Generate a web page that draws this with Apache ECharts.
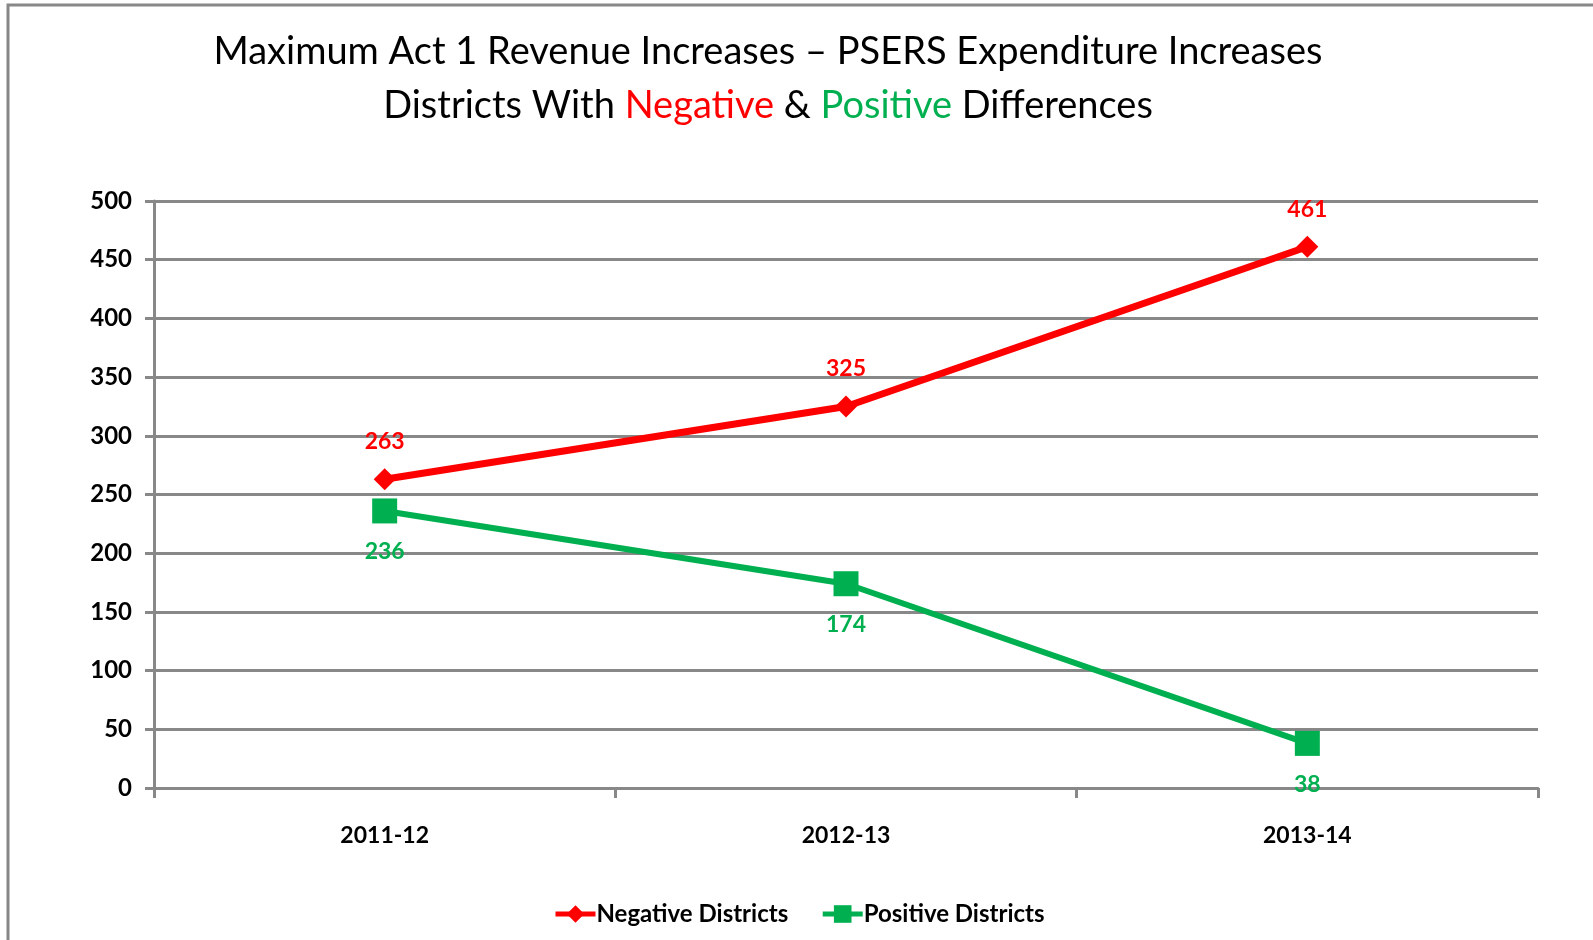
<!DOCTYPE html>
<html>
<head>
<meta charset="utf-8">
<script src="https://cdn.jsdelivr.net/npm/echarts@6/dist/echarts.min.js"></script>
<style>
  html, body { margin: 0; padding: 0; background: #fff; }
  #chart { width: 1593px; height: 940px; }
</style>
</head>
<body>
<div id="chart"></div>
<script>
  // school years
  const years = ['2011-12', '2012-13', '2013-14']
  // districts where max Act 1 revenue increase < PSERS increase
  const negativeDistricts = [263, 325, 461]
  // districts where it is greater
  const positiveDistricts = [236, 174, 38]
  const yTicks = [0, 50, 100, 150, 200, 250, 300, 350, 400, 450, 500]

  const RED = '#FF0000'
  const GREEN = '#00B050'
  const GRAY = '#888888'
  const FONT = 'Lato'

  const chart = echarts.init(document.getElementById('chart'))
  const option = {
    backgroundColor: '#fff',
    textStyle: { fontFamily: FONT },
    title: {
      left: 763,
      top: 20,
      textAlign: 'center',
      text: '{a|Maximum Act 1 Revenue Increases \u2013 PSERS Expenditure Increases}\n' +
        '{a|Districts With }{n|Negative}{a| & }{p|Positive}{a| Differences}',
      textStyle: {
        fontWeight: 'normal',
        rich: {
          a: { fontFamily: FONT, fontSize: 38, fontWeight: 'normal', color: '#000', lineHeight: 54 },
          n: { fontFamily: FONT, fontSize: 38, fontWeight: 'normal', color: RED, lineHeight: 54 },
          p: { fontFamily: FONT, fontSize: 38, fontWeight: 'normal', color: GREEN, lineHeight: 54 }
        }
      }
    },
    graphic: [{
      type: 'polyline',
      shape: { points: [[8, 940], [8, 5], [1593, 5]] },
      style: { stroke: GRAY, lineWidth: 3, fill: null }
    }],
    legend: {
      left: 548,
      top: 897,
      itemWidth: 40,
      itemHeight: 22,
      itemGap: 32,
      lineStyle: { width: 5 },
      textStyle: { fontFamily: FONT, fontSize: 24, fontWeight: 'bold', color: '#000', padding: [0, 0, 0, -4] },
      data: ['Negative Districts', 'Positive Districts']
    },
    grid: {
      left: 154,
      right: 55,
      top: 201,
      bottom: 152
    },
    xAxis: {
      type: 'category',
      data: years,
      boundaryGap: true,
      axisLine: { lineStyle: { color: GRAY, width: 3 } },
      axisTick: { show: true, length: 10, lineStyle: { color: GRAY, width: 3 } },
      axisLabel: { margin: 36, fontFamily: FONT, fontSize: 23, fontWeight: 'bold', color: '#000' }
    },
    yAxis: {
      type: 'value',
      min: yTicks[0],
      max: yTicks[yTicks.length - 1],
      interval: 50,
      axisLine: { show: true, lineStyle: { color: GRAY, width: 3 } },
      axisTick: { show: true, length: 9, lineStyle: { color: GRAY, width: 3 } },
      splitLine: { show: true, lineStyle: { color: GRAY, width: 3 } },
      axisLabel: { margin: 22, fontFamily: FONT, fontSize: 24, fontWeight: 'bold', color: '#000' }
    },
    series: [{
      name: 'Negative Districts',
      type: 'line',
      data: negativeDistricts,
      color: RED,
      symbol: 'diamond',
      symbolSize: 22,
      lineStyle: { width: 7, color: RED },
      itemStyle: { color: RED },
      label: {
        show: true,
        position: 'top',
        distance: 15,
        fontFamily: FONT,
        fontSize: 23,
        fontWeight: 'bold',
        color: RED
      },
      z: 3
    }, {
      name: 'Positive Districts',
      type: 'line',
      data: positiveDistricts,
      color: GREEN,
      symbol: 'rect',
      symbolSize: 25,
      lineStyle: { width: 6, color: GREEN },
      itemStyle: { color: GREEN },
      label: {
        show: true,
        position: 'bottom',
        distance: 17,
        fontFamily: FONT,
        fontSize: 23,
        fontWeight: 'bold',
        color: GREEN
      },
      z: 2
    }],
    animation: false
  }
  chart.setOption(option)
</script>
</body>
</html>
